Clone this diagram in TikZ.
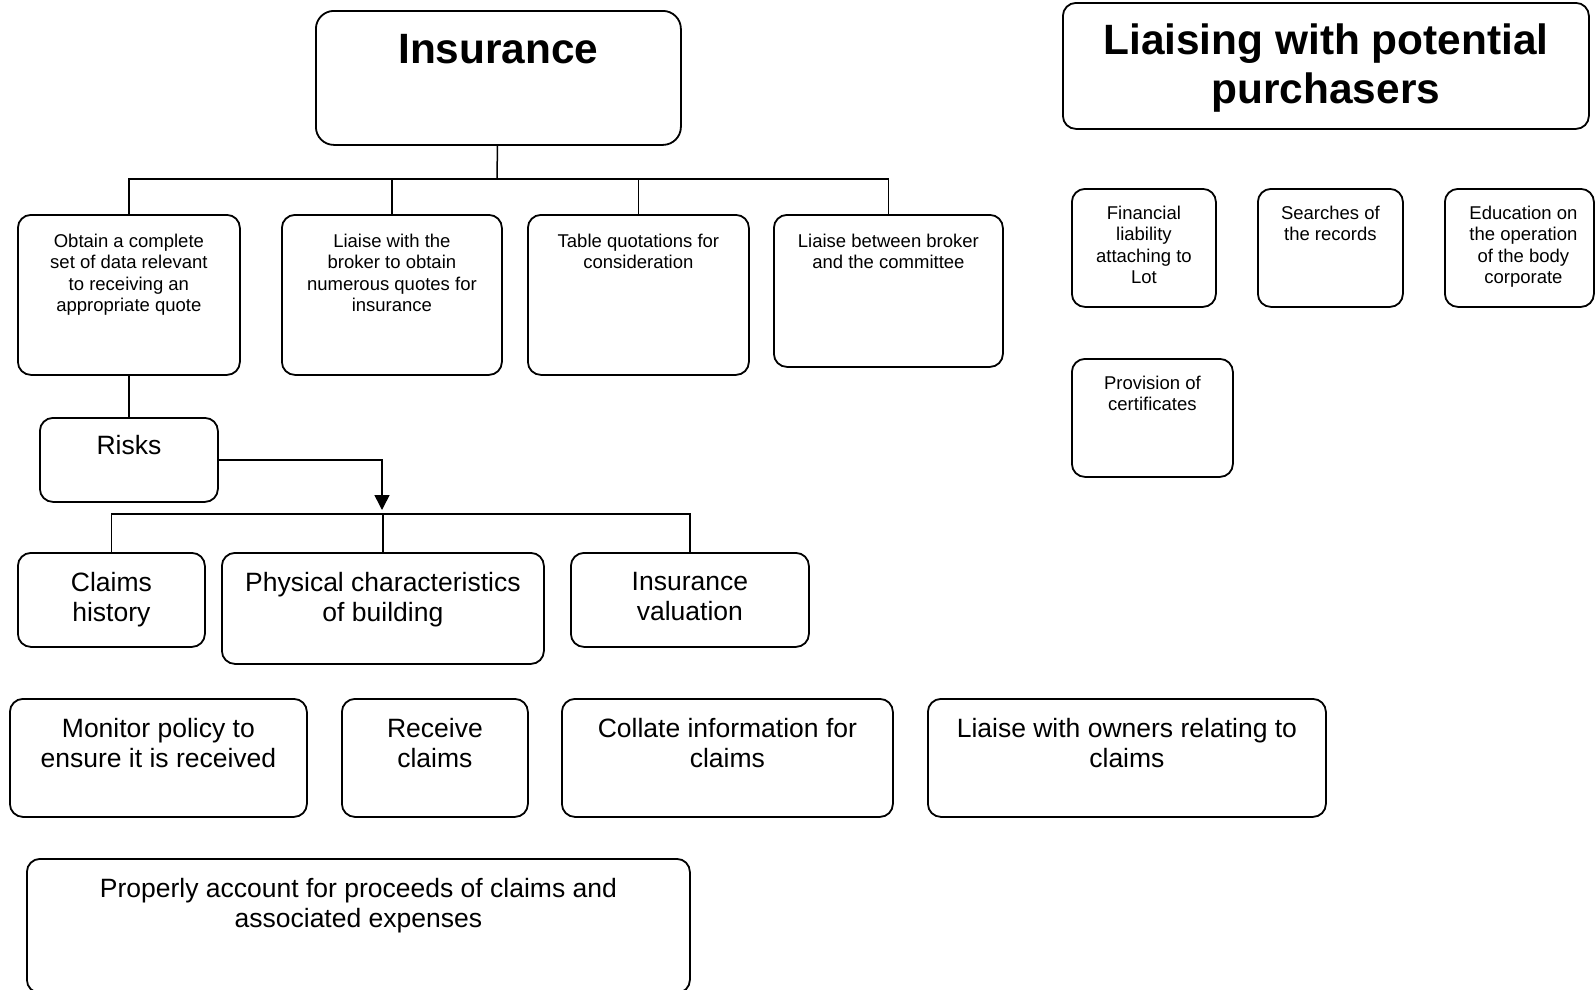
\documentclass[tikz,border=0pt]{standalone}
\usepackage{fontspec}
\setmainfont{Liberation Sans}
\usetikzlibrary{arrows.meta}

\begin{document}
\begin{tikzpicture}
  [x=1pt,y=-1pt,
   card/.style={draw,line width=1.8pt,rounded corners=13pt,anchor=north west,inner sep=0pt},
   link/.style={line width=1.5pt}]
  \tikzstyle{tag} = [anchor=north,align=center,inner sep=0pt,yshift=-20pt,font=\fontsize{18.5}{21.3}\selectfont]
  \tikzstyle{midtag} = [anchor=north,align=center,inner sep=0pt,yshift=-20pt,font=\fontsize{26.5}{30.5}\selectfont]
  \tikzstyle{headtag} = [anchor=north,align=center,inner sep=0pt,yshift=-24pt,font=\fontsize{42.4}{49}\selectfont\bfseries]
  \useasboundingbox (0,0) rectangle (1595,989);

  % insurance tree
  \node[card,minimum width=365,minimum height=134,rounded corners=18pt,
        label={[headtag]north:Insurance}] (ins) at (315,10) {};
  \node[card,minimum width=222,minimum height=160,
        label={[tag]north:Obtain a complete\\set of data relevant\\to receiving an\\appropriate quote}] (quote) at (17,214) {};
  \node[card,minimum width=220,minimum height=160,
        label={[tag]north:Liaise with the\\broker to obtain\\numerous quotes for\\insurance}] (broker) at (281,214) {};
  \node[card,minimum width=221,minimum height=160,
        label={[tag]north:Table quotations for\\consideration}] (tabled) at (527,214) {};
  \node[card,minimum width=229,minimum height=152,
        label={[tag]north:Liaise between broker\\and the committee}] (committee) at (773,214) {};

  \node[card,minimum width=178,minimum height=84,
        label={[midtag,yshift=1.5pt]north:Risks}] (risks) at (39,417) {};
  \node[card,minimum width=187,minimum height=94,
        label={[midtag]north:Claims\\history}] (claimshist) at (17,552) {};
  \node[card,minimum width=322,minimum height=111,
        label={[midtag]north:Physical characteristics\\of building}] (physical) at (221,552) {};
  \node[card,minimum width=238,minimum height=94,
        label={[midtag]north:Insurance\\valuation}] (valuation) at (570,552) {};

  % claims
  \node[card,minimum width=297,minimum height=118,
        label={[midtag]north:Monitor policy to\\ensure it is received}] (monitor) at (9,698) {};
  \node[card,minimum width=186,minimum height=118,
        label={[midtag]north:Receive\\claims}] (receive) at (341,698) {};
  \node[card,minimum width=331,minimum height=118,
        label={[midtag]north:Collate information for\\claims}] (collate) at (561,698) {};
  \node[card,minimum width=398,minimum height=118,
        label={[midtag]north:Liaise with owners relating to\\claims}] (owners) at (927,698) {};
  \node[card,minimum width=663,minimum height=134,
        label={[midtag]north:Properly account for proceeds of claims and\\associated expenses}] (proceeds) at (26,858) {};

  % purchasers
  \node[card,minimum width=526,minimum height=126,
        label={[headtag,yshift=2pt]north:Liaising with potential\\purchasers}] (buyers) at (1062,2) {};
  \node[card,minimum width=144,minimum height=118,
        label={[tag,yshift=2pt]north:Financial\\liability\\attaching to\\Lot}] (liability) at (1071,188) {};
  \node[card,minimum width=145,minimum height=118,
        label={[tag,yshift=2pt]north:Searches of\\the records}] (searches) at (1257,188) {};
  \node[card,minimum width=149,minimum height=118,
        label={[tag,yshift=2pt,xshift=4pt]north:Education on\\the operation\\of the body\\corporate}] (education) at (1444,188) {};
  \node[card,minimum width=161,minimum height=118,
        label={[tag,yshift=2pt]north:Provision of\\certificates}] (certificates) at (1071,358) {};

  % connectors
  \coordinate (topbus) at (497,179);
  \coordinate (riskbus) at (382,514);
  \draw[link] (ins) -- (topbus);
\foreach \dest in {quote,broker,tabled,committee}
   \draw[link] (topbus) -| (\dest.north);
  \draw[link] (quote) -- (risks);
  \draw[link,-{Triangle[width=15pt,length=15pt]},shorten >=4pt] (risks.east) -| (riskbus);
\foreach \dest in {claimshist,physical,valuation}
   \draw[link] (riskbus) -| (\dest.north);

\end{tikzpicture}
\end{document}
